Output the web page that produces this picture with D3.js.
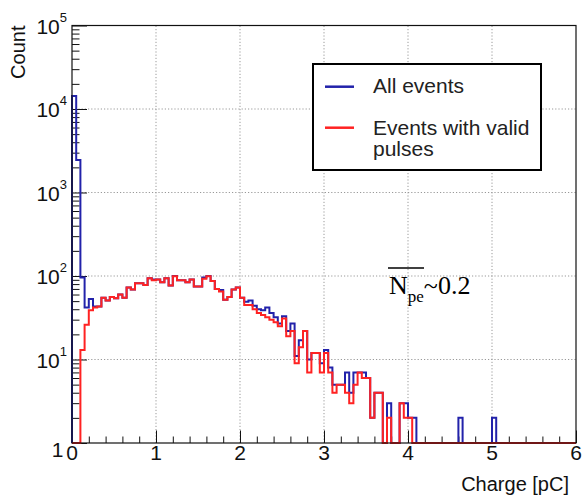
<!DOCTYPE html>
<html>
<head>
<meta charset="utf-8">
<script src="https://cdn.jsdelivr.net/npm/d3@7"></script>
<style>
body { margin: 0; background: #fff; }
svg { display: block; font-family: "Liberation Sans", Arial, sans-serif; }
</style>
</head>
<body>
<svg width="583" height="495"></svg>
<script>
// histogram: 120 bins of 0.05 pC between 0 and 6 pC
const chargeRange = [0, 6];
const binCount = 120;

const allEvents = [
  14300, 2450, 96, 42, 53, 43, 43, 55, 51, 56,
  54, 60, 55, 73, 69, 82, 82, 78, 94, 91,
  91, 84, 94, 77, 100, 89, 89, 84, 91, 75,
  75, 96, 100, 87, 70, 68, 52, 56, 69, 73,
  55, 49, 51, 44, 40, 39, 42, 36, 32, 27,
  33, 22, 27, 11, 17, 22, 10, 12, 12, 9,
  13, 8, 5, 5, 5, 7, 4, 7, 7, 7,
  6, 2, 4, 4, 0, 3, 0, 0, 3, 3,
  2, 2, 0, 0, 0, 0, 0, 0, 0, 0,
  0, 0, 2, 0, 0, 0, 0, 0, 0, 0,
  2, 0, 0, 0, 0, 0, 0, 0, 0, 0,
  0, 0, 0, 0, 0, 0, 0, 0, 0, 0
];

const validPulses = [
  0, 0, 13, 26, 39, 42, 43, 55, 51, 56,
  54, 60, 55, 73, 69, 82, 82, 78, 94, 89,
  91, 84, 94, 77, 99, 89, 89, 84, 91, 75,
  75, 93, 99, 87, 70, 65, 52, 56, 69, 73,
  55, 45, 45, 40, 36, 34, 32, 30, 28, 25,
  31, 19, 22, 9, 14, 22, 7, 12, 12, 7,
  12, 7, 4, 5, 5, 4, 3, 5, 7, 6,
  6, 2, 4, 4, 0, 2, 0, 0, 3, 2,
  2, 0, 0, 0, 0, 0, 0, 0, 0, 0,
  0, 0, 0, 0, 0, 0, 0, 0, 0, 0,
  0, 0, 0, 0, 0, 0, 0, 0, 0, 0,
  0, 0, 0, 0, 0, 0, 0, 0, 0, 0
];

const xTickLabels = ["0", "1", "2", "3", "4", "5", "6"];
const yDecades = [0, 1, 2, 3, 4, 5];
const legendEntries = [
  {lines: ["All events"], color: "#2222aa"},
  {lines: ["Events with valid", "pulses"], color: "#ff2222"}
];

var svg = d3.select("svg"),
    padLeft = 72, padRight = 576, padTop = 25.5, padBottom = 443;

var x = d3.scaleLinear().domain(chargeRange).range([padLeft, padRight]);
var y = d3.scaleLog().domain([1, 1e5]).range([padBottom, padTop]);

const binWidth = (chargeRange[1] - chargeRange[0]) / binCount;

// dotted grid
svg.append("g")
    .selectAll("line")
    .data(xTickLabels.slice(1, -1))
    .enter().append("line")
    .attr("x1", d => x(+d)).attr("x2", d => x(+d))
    .attr("y1", padBottom).attr("y2", padTop)
    .attr("stroke", "#999").attr("stroke-dasharray", "1.2,2");

svg.append("g")
    .selectAll("line")
    .data(yDecades.slice(1, -1))
    .enter().append("line")
    .attr("x1", padLeft).attr("x2", padRight)
    .attr("y1", d => y(Math.pow(10, d))).attr("y2", d => y(Math.pow(10, d)))
    .attr("stroke", "#999").attr("stroke-dasharray", "1.2,2");

// ticks (inside the frame, ROOT style)
var minorY = [];
yDecades.slice(0, -1).forEach(n => {
    for (let k = 2; k <= 9; k++) minorY.push(k * Math.pow(10, n));
});
var majorY = yDecades.map(n => Math.pow(10, n));
var minorX = d3.range(0, 31).map(i => i * 0.2).filter(v => Math.abs(v - Math.round(v)) > 1e-6);
var majorX = xTickLabels.map(Number);

function tickAxis(axis, size, values, tr) {
    var g = svg.append("g")
        .attr("transform", tr)
        .call(axis.tickValues(values).tickSize(size).tickFormat(""));
    g.select(".domain").remove();
    g.selectAll("line").attr("stroke", "#111");
}
tickAxis(d3.axisLeft(y), -7.5, minorY, `translate(${padLeft},0)`);
tickAxis(d3.axisLeft(y), -15, majorY, `translate(${padLeft},0)`);
tickAxis(d3.axisBottom(x), -6.5, minorX, `translate(0,${padBottom})`);
tickAxis(d3.axisBottom(x), -12.5, majorX, `translate(0,${padBottom})`);

// histograms
svg.append("clipPath").attr("id", "frame")
    .append("rect")
    .attr("x", padLeft - 2).attr("y", padTop)
    .attr("width", padRight - padLeft + 4).attr("height", padBottom - padTop + 2);

var stepLine = d3.line()
    .x(d => x(d[0]))
    .y(d => y(Math.max(1, d[1])))
    .curve(d3.curveStepAfter);

function outline(counts) {
    var pts = [[chargeRange[0], 1]];
    counts.forEach((c, i) => pts.push([chargeRange[0] + i * binWidth, c]));
    pts.push([chargeRange[1], counts[counts.length - 1]]);
    pts.push([chargeRange[1], 1]);
    return pts;
}

svg.append("path")
    .attr("d", stepLine(outline(allEvents)))
    .attr("fill", "none")
    .attr("stroke", legendEntries[0].color)
    .attr("stroke-width", 2)
    .attr("clip-path", "url(#frame)");

svg.append("path")
    .attr("d", stepLine(outline(validPulses)))
    .attr("fill", "none")
    .attr("stroke", legendEntries[1].color)
    .attr("stroke-width", 2)
    .attr("clip-path", "url(#frame)");

// frame
svg.append("rect")
    .attr("x", padLeft).attr("y", padTop)
    .attr("width", padRight - padLeft).attr("height", padBottom - padTop)
    .attr("fill", "none").attr("stroke", "#111").attr("stroke-width", 1.2);

// tick labels
svg.append("g")
    .selectAll("text")
    .data(xTickLabels)
    .enter().append("text")
    .attr("x", d => x(+d))
    .attr("y", 460)
    .attr("text-anchor", "middle")
    .attr("font-size", 21)
    .attr("fill", "#111")
    .text(d => d);

var yLab = svg.append("g")
    .selectAll("text")
    .data(yDecades)
    .enter().append("text")
    .attr("x", d => d === 0 ? 63.5 : 67)
    .attr("y", d => d === 0 ? 457 : y(Math.pow(10, d)) + 8)
    .attr("text-anchor", "end")
    .attr("font-size", 21)
    .attr("fill", "#111");
yLab.append("tspan").text(d => d === 0 ? "1" : "10");
yLab.filter(d => d > 0).append("tspan")
    .attr("font-size", 13)
    .attr("dy", -12)
    .text(d => d);

// axis titles
svg.append("text")
    .attr("x", 569).attr("y", 490.5)
    .attr("text-anchor", "end")
    .attr("font-size", 20)
    .attr("fill", "#111")
    .text("Charge [pC]");

svg.append("text")
    .attr("transform", "translate(25,25.5) rotate(-90)")
    .attr("text-anchor", "end")
    .attr("font-size", 20)
    .attr("fill", "#111")
    .text("Count");

// legend
var legend = svg.append("g");
legend.append("rect")
    .attr("x", 313).attr("y", 64)
    .attr("width", 228).attr("height", 106)
    .attr("fill", "#fff").attr("stroke", "#000").attr("stroke-width", 2);

var lineY = [86.7, 127.7];
var textY = [[93], [134.5, 155.5]];
legendEntries.forEach((e, i) => {
    legend.append("line")
        .attr("x1", 325).attr("x2", 354)
        .attr("y1", lineY[i]).attr("y2", lineY[i])
        .attr("stroke", e.color).attr("stroke-width", 2.5);
    e.lines.forEach((t, j) => {
        legend.append("text")
            .attr("x", 373).attr("y", textY[i][j])
            .attr("font-size", 21)
            .attr("fill", "#222")
            .text(t);
    });
});

// mean number of photoelectrons annotation
var note = svg.append("text")
    .attr("x", 389).attr("y", 294)
    .attr("font-family", "'Liberation Serif', 'Times New Roman', serif")
    .attr("font-size", 26)
    .attr("fill", "#000");
note.append("tspan").text("N");
note.append("tspan").attr("font-size", 17).attr("dy", 7.5).text("pe");
note.append("tspan").attr("dy", -7.5).text("~0.2");
svg.append("line")
    .attr("x1", 388).attr("x2", 424)
    .attr("y1", 268).attr("y2", 268)
    .attr("stroke", "#000").attr("stroke-width", 1.5);
</script>
</body>
</html>
